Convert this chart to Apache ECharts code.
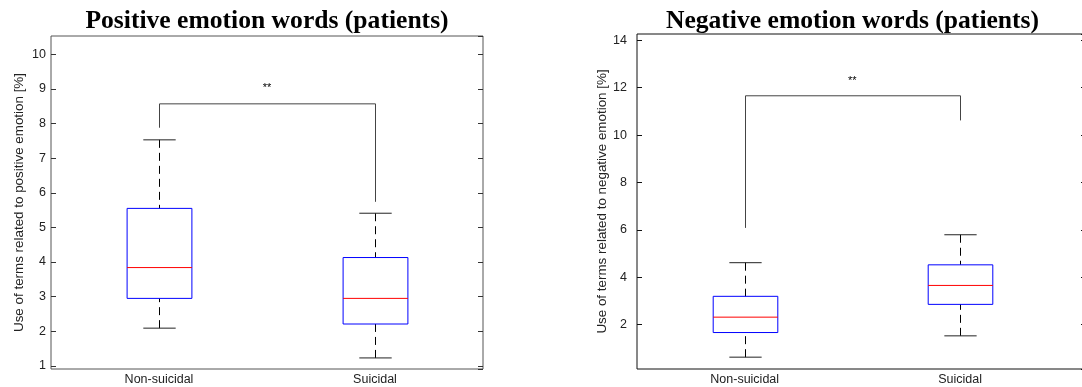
<!DOCTYPE html>
<html>
<head>
<meta charset="utf-8">
<script src="https://cdn.jsdelivr.net/npm/echarts@6/dist/echarts.min.js"></script>
<style>
  html, body { margin: 0; padding: 0; background: #fff; }
  #chart { width: 1082px; height: 387px; }
</style>
</head>
<body>
<div id="chart"></div>
<script>
// groups on the x axis (positions 1 and 2)
const groups = ['Non-suicidal', 'Suicidal'];

// positive emotion words: whisker low, Q1, median, Q3, whisker high
const posMin = [2.09, 1.23];
const posQ1 = [2.95, 2.21];
const posMed = [3.84, 2.95];
const posQ3 = [5.55, 4.13];
const posMax = [7.53, 5.41];

// negative emotion words
const negMin = [0.62, 1.52];
const negQ1 = [1.66, 2.85];
const negMed = [2.31, 3.65];
const negQ3 = [3.19, 4.52];
const negMax = [4.61, 5.79];

// significance brackets: top, left leg end, right leg end, label y
const posBracket = [8.57, 7.88, 5.74, 9.02];
const negBracket = [11.66, 6.08, 10.62, 12.3];
const starLabel = '**';

// axis ranges
const posRange = [0.91, 10.53];
const negRange = [0.12, 14.27];
const negXMax = 2.585;

const FONT = '"Liberation Sans", Arial, sans-serif';

function boxRows(mn, q1, md, q3, mx) {
    return groups.map(function (g, i) {
        return [i + 1, mn[i], q1[i], md[i], q3[i], mx[i]];
    });
}

function renderBox(params, api) {
    let x = api.value(0);
    let half = api.size([0.15, 0])[0];
    let capHalf = api.size([0.075, 0])[0];
    let pMin = api.coord([x, api.value(1)]);
    let pQ1 = api.coord([x, api.value(2)]);
    let pMed = api.coord([x, api.value(3)]);
    let pQ3 = api.coord([x, api.value(4)]);
    let pMax = api.coord([x, api.value(5)]);
    let cx = Math.round(pMin[0]) + 0.5;
    let dash = { stroke: '#000', lineWidth: 1, lineDash: [8, 5] };
    let solid = { stroke: '#222', lineWidth: 1 };
    return {
        type: 'group',
        children: [
            { type: 'line', shape: { x1: cx, y1: pMax[1], x2: cx, y2: pQ3[1] }, style: dash },
            { type: 'line', shape: { x1: cx, y1: pMin[1], x2: cx, y2: pQ1[1] }, style: dash },
            { type: 'line', shape: { x1: cx - capHalf, y1: pMax[1], x2: cx + capHalf, y2: pMax[1] }, style: solid },
            { type: 'line', shape: { x1: cx - capHalf, y1: pMin[1], x2: cx + capHalf, y2: pMin[1] }, style: solid },
            { type: 'rect', shape: { x: cx - half, y: pQ3[1], width: half * 2, height: pQ1[1] - pQ3[1] },
              style: { fill: 'none', stroke: '#0000ff', lineWidth: 1 } },
            { type: 'line', shape: { x1: cx - half, y1: pMed[1], x2: cx + half, y2: pMed[1] },
              style: { stroke: '#ff0000', lineWidth: 1 } }
        ]
    };
}

function renderBracket(params, api) {
    let top = api.value(0);
    let a = api.coord([1, api.value(1)]);
    let b = api.coord([2, api.value(2)]);
    let t1 = api.coord([1, top]);
    let t2 = api.coord([2, top]);
    let s = api.coord([1.5, api.value(3)]);
    return {
        type: 'group',
        children: [
            { type: 'polyline', shape: { points: [[Math.round(a[0]) + 0.5, a[1]], [Math.round(t1[0]) + 0.5, t1[1]], [Math.round(t2[0]) + 0.5, t2[1]], [Math.round(b[0]) + 0.5, b[1]]] },
              style: { fill: 'none', stroke: '#444', lineWidth: 1 } },
            { type: 'text', x: s[0], y: s[1],
              style: { text: starLabel, align: 'center', verticalAlign: 'middle', fontSize: 11, fontFamily: FONT, fill: '#000' } }
        ]
    };
}

function xAxisFor(idx, max) {
    return {
        type: 'value', gridIndex: idx, min: 0.5, max: max, splitNumber: 2,
        axisLine: { show: false }, axisTick: { show: false }, splitLine: { show: false },
        axisLabel: {
            margin: 4, fontSize: 12.5, fontFamily: FONT, color: '#222',
            showMinLabel: false, showMaxLabel: false,
            formatter: function (v) { return groups[v - 1] || ''; }
        }
    };
}

function yAxisFor(idx, range, split, name, gap, margin, lineColor, right) {
    return {
        type: 'value', gridIndex: idx, min: range[0], max: range[1], splitNumber: split,
        position: right ? 'right' : 'left',
        name: right ? '' : name, nameLocation: 'middle', nameGap: gap, nameRotate: 90,
        nameTextStyle: { fontSize: 13.4, fontFamily: FONT, color: '#222' },
        axisLine: { show: false },
        splitLine: { show: false },
        axisTick: { show: true, inside: true, length: 5, lineStyle: { color: lineColor } },
        axisLabel: {
            show: !right, margin: margin, fontSize: 12.5, fontFamily: FONT, color: '#222',
            showMinLabel: false, showMaxLabel: false,
            formatter: function (v) { return Math.abs(v - Math.round(v)) < 1e-6 ? String(v) : ''; }
        }
    };
}

let myChart = echarts.init(document.getElementById('chart'), null, { renderer: 'canvas' });

let option = {
    animation: false,
    backgroundColor: '#fff',
    graphic: [
        { type: 'text', x: 267, y: 21, style: { text: 'Positive emotion words (patients)', align: 'center', verticalAlign: 'middle',
            fontSize: 25.6, fontWeight: 'bold', fontFamily: '"Liberation Serif", "Times New Roman", serif', fill: '#000' } },
        { type: 'text', x: 852.5, y: 21, style: { text: 'Negative emotion words (patients)', align: 'center', verticalAlign: 'middle',
            fontSize: 25.6, fontWeight: 'bold', fontFamily: '"Liberation Serif", "Times New Roman", serif', fill: '#000' } }
    ],
    grid: [
        { left: 51, top: 36, width: 432, height: 333, outerBoundsMode: 'none',
          show: true, borderColor: '#555', borderWidth: 1, backgroundColor: 'transparent' },
        { left: 637, top: 34, width: 449, height: 335, outerBoundsMode: 'none',
          show: true, borderColor: '#111', borderWidth: 1, backgroundColor: 'transparent' }
    ],
    xAxis: [xAxisFor(0, 2.5), xAxisFor(1, negXMax)],
    yAxis: [
        yAxisFor(0, posRange, 9, 'Use of terms related to positive emotion [%]', 25, 5, '#333', false),
        yAxisFor(0, posRange, 9, '', 0, 5, '#333', true),
        yAxisFor(1, negRange, 7, 'Use of terms related to negative emotion [%]', 18, 10, '#111', false),
        yAxisFor(1, negRange, 7, '', 0, 10, '#111', true)
    ],
    series: [
        { type: 'custom', xAxisIndex: 0, yAxisIndex: 0, renderItem: renderBox,
          data: boxRows(posMin, posQ1, posMed, posQ3, posMax) },
        { type: 'custom', xAxisIndex: 0, yAxisIndex: 0, renderItem: renderBracket,
          data: [posBracket] },
        { type: 'custom', xAxisIndex: 1, yAxisIndex: 2, renderItem: renderBox,
          data: boxRows(negMin, negQ1, negMed, negQ3, negMax) },
        { type: 'custom', xAxisIndex: 1, yAxisIndex: 2, renderItem: renderBracket,
          data: [negBracket] }
    ]
};

myChart.setOption(option);
</script>
</body>
</html>
